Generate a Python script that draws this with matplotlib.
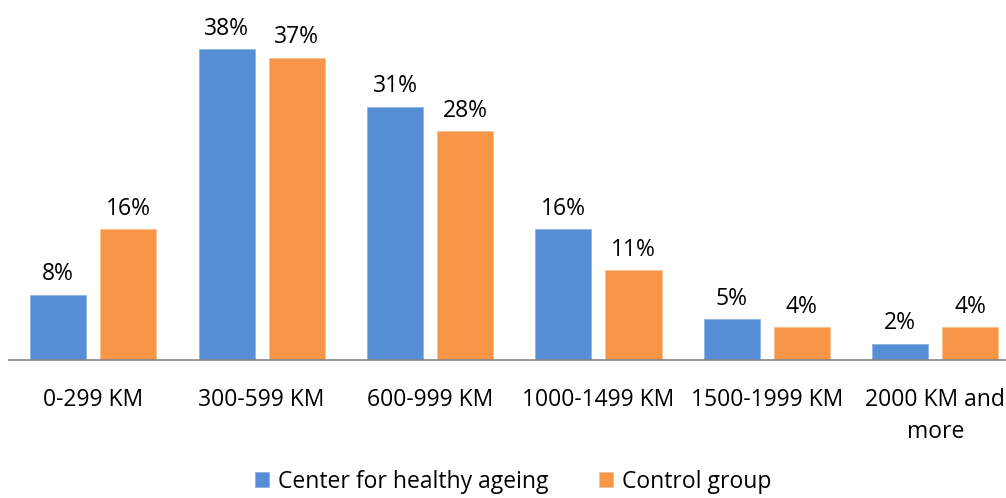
import matplotlib.pyplot as plt
import numpy as np

categories = ['0-299 KM', '300-599 KM', '600-999 KM', '1000-1499 KM',
              '1500-1999 KM', '2000 KM and\nmore']
healthy_ageing = [8, 38, 31, 16, 5, 2]
control_group = [16, 37, 28, 11, 4, 4]
series_names = ['Center for healthy ageing', 'Control group']

plt.rcParams['font.family'] = ['Open Sans', 'DejaVu Sans']

fig = plt.figure(figsize=(10.06, 4.98), dpi=100)
ax = fig.add_axes([9 / 1006, 138 / 498, 997 / 1006, 327 / 498])

x = np.arange(len(categories))
width = 0.333
off = 0.208
b1 = ax.bar(x - off, healthy_ageing, width, color='#558ED5', edgecolor='#8DB3E2',
            linewidth=0.6, label=series_names[0])
b2 = ax.bar(x + off, control_group, width, color='#F79646', edgecolor='#FAC090',
            linewidth=0.6, label=series_names[1])

for bars, vals in ((b1, healthy_ageing), (b2, control_group)):
    for bar, v in zip(bars, vals):
        ax.text(bar.get_x() + bar.get_width() / 2, v + 1.0, f'{v}%',
                ha='center', va='bottom', fontsize=16.5, color='black')

ax.set_xlim(-0.5, 5.42)
ax.set_ylim(0, 40)
ax.set_xticks(x)
ax.set_xticklabels(categories, fontsize=16.5, linespacing=1.45)
ax.tick_params(axis='x', length=0, pad=20)
ax.set_yticks([])
for s in ['top', 'right', 'left']:
    ax.spines[s].set_visible(False)
ax.spines['bottom'].set_color('#868686')
ax.spines['bottom'].set_linewidth(1.2)

ax.legend(loc='center', bbox_to_anchor=(0.506, -0.372), ncol=2,
          frameon=False, fontsize=16.5, handlelength=0.6, handleheight=0.6,
          handletextpad=0.4, columnspacing=2.2)

fig.savefig('out.png', dpi=100)
